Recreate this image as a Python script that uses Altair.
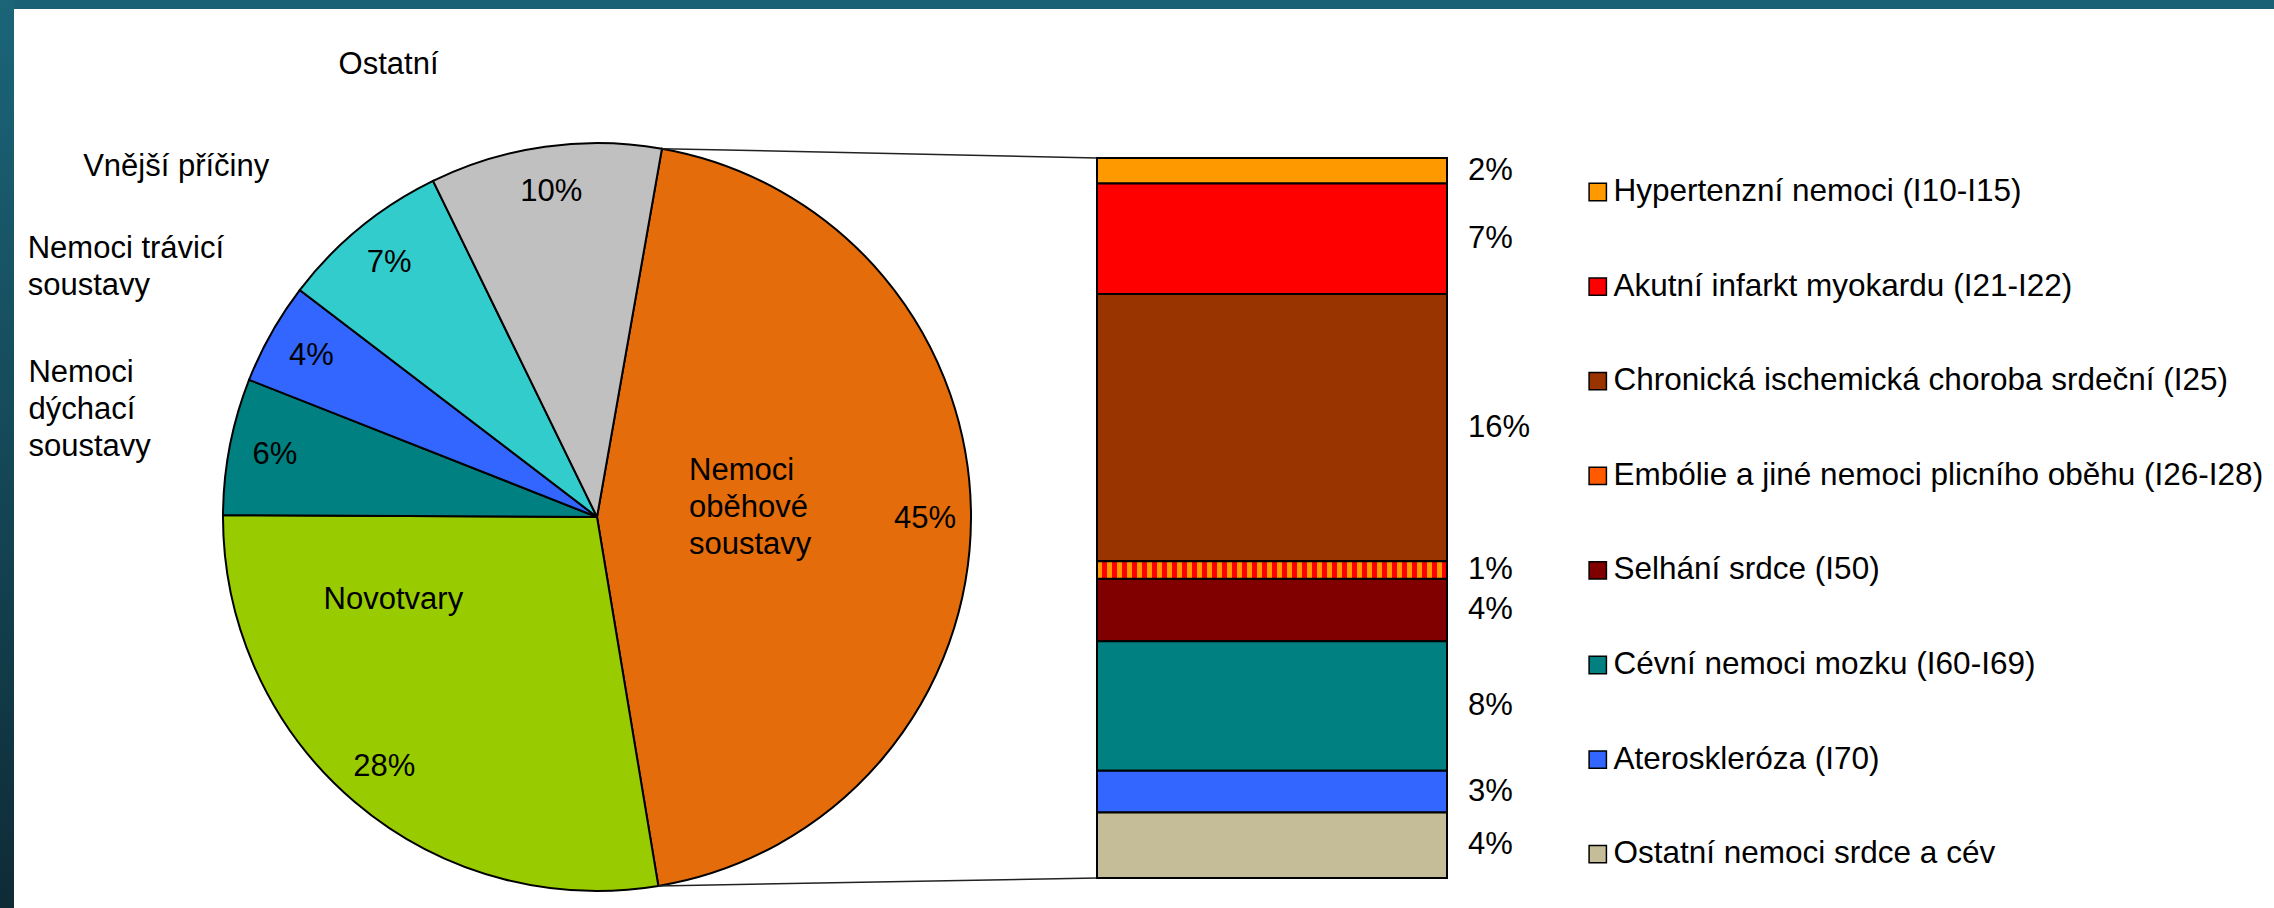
import math
import altair as alt
import pandas as pd

# ---------------- data ----------------
pie_categories = ["Nemoci oběhové soustavy", "Novotvary", "Nemoci dýchací soustavy",
                  "Nemoci trávicí soustavy", "Vnější příčiny", "Ostatní"]
pie_values = [44.6, 27.7, 5.9, 4.4, 7.4, 10.0]
pie_pct_labels = ["45%", "28%", "6%", "4%", "7%", "10%"]
pie_name_labels = ["Nemoci\noběhové\nsoustavy", "Novotvary", "Nemoci\ndýchací\nsoustavy",
                   "Nemoci trávicí\nsoustavy", "Vnější příčiny", "Ostatní"]
pie_colors = ["#E46C0A", "#99CC00", "#008080", "#3366FF", "#33CCCC", "#C0C0C0"]

bar_categories = ["Hypertenzní nemoci (I10-I15)", "Akutní infarkt myokardu (I21-I22)",
                  "Chronická ischemická choroba srdeční (I25)",
                  "Embólie a jiné nemoci plicního oběhu (I26-I28)", "Selhání srdce (I50)",
                  "Cévní nemoci mozku (I60-I69)", "Ateroskleróza (I70)",
                  "Ostatní nemoci srdce a cév"]
bar_values = [1.6, 6.9, 16.7, 1.1, 3.9, 8.1, 2.6, 4.1]
bar_labels = ["2%", "7%", "16%", "1%", "4%", "8%", "3%", "4%"]
bar_colors = ["#FF9900", "#FF0000", "#993300", "#FF5A00", "#800000", "#008080",
              "#3366FF", "#C4BD97"]

pie_df = pd.DataFrame({"idx": range(len(pie_categories)), "cat": pie_categories,
                       "value": pie_values, "pct": pie_pct_labels, "name": pie_name_labels})
bar_df = pd.DataFrame({"idx": range(len(bar_categories)), "cat": bar_categories,
                       "value": bar_values, "label": bar_labels})

# ---------------- layout / style ----------------
FONT = "Liberation Sans"
FS = 31
W, H = 2260, 899
CX, CY, R = 583, 508, 374            # pie centre (view coords) and radius
START = math.radians(10)            # angle of first slice
BAR_X0, BAR_X1 = 1083, 1433
BAR_TOP, BAR_BOTTOM = 149, 869

theta_scale = alt.Scale(domain=[0, sum(pie_values)], range=[START, START + 2 * math.pi])
y_scale = alt.Scale(domain=[0, sum(bar_values)], range=[BAR_TOP, BAR_BOTTOM])

pie_base = alt.Chart(pie_df).transform_window(
    cum="sum(value)", sort=[alt.SortField("idx")], frame=[None, 0]
).transform_calculate(
    start="datum.cum - datum.value", mid="datum.cum - datum.value / 2"
)

arcs = pie_base.mark_arc(outerRadius=R, stroke="black", strokeWidth=2).encode(
    theta=alt.Theta("start:Q", scale=theta_scale, stack=False),
    theta2="cum:Q",
    color=alt.Color("cat:N", scale=alt.Scale(domain=pie_categories, range=pie_colors), legend=None),
    x=alt.value(CX), y=alt.value(CY),
)

pct_text = pie_base.mark_text(radius=328, font=FONT, fontSize=FS, color="black").encode(
    theta=alt.Theta("mid:Q", scale=theta_scale, stack=False),
    text="pct:N",
    x=alt.value(CX), y=alt.value(CY),
)

# label placement styles (radius, dx, dy, align) per slice
name_styles = [
    (92, 0, -46, "left"),
    (220, -61, -84, "center"),
    (470, -107, -55, "left"),
    (470, -160, -37, "left"),
    (470, -123, 14, "center"),
    (470, -143, 13, "center"),
]
name_layers = []
for i, (rad, dx, dy, al) in enumerate(name_styles):
    name_layers.append(
        pie_base.transform_filter(alt.datum.idx == i).mark_text(
            radius=rad, dx=dx, dy=dy, align=al, baseline="middle", font=FONT,
            fontSize=FS, lineBreak="\n", lineHeight=37, color="black"
        ).encode(
            theta=alt.Theta("mid:Q", scale=theta_scale, stack=False),
            text="name:N",
            x=alt.value(CX), y=alt.value(CY),
        )
    )

one = pd.DataFrame({"k": [0]})
connectors = alt.Chart(one).mark_rule(color="#222222", strokeWidth=1.5).encode(
    x=alt.value(CX + R * math.sin(START)), y=alt.value(CY - R * math.cos(START)),
    x2=alt.value(BAR_X0), y2=alt.value(BAR_TOP),
)
end_ang = START + 2 * math.pi * pie_values[0] / sum(pie_values)
connectors2 = alt.Chart(one).mark_rule(color="#222222", strokeWidth=1.5).encode(
    x=alt.value(CX + R * math.sin(end_ang)), y=alt.value(CY - R * math.cos(end_ang)),
    x2=alt.value(BAR_X0), y2=alt.value(BAR_BOTTOM),
)

bar_base = alt.Chart(bar_df).transform_window(
    cum="sum(value)", sort=[alt.SortField("idx")], frame=[None, 0]
).transform_calculate(
    y0="datum.cum - datum.value", ymid="datum.cum - datum.value / 2"
)

legend = alt.Legend(
    title=None, orient="none", legendX=1568, legendY=163, symbolType="square",
    symbolSize=300, symbolStrokeColor="black", symbolStrokeWidth=1.5, symbolOpacity=1,
    labelFont=FONT, labelFontSize=31.5, labelColor="black", labelLimit=1000,
    labelOffset=0, clipHeight=40, rowPadding=54.6,
)

bars = bar_base.mark_bar(stroke="black", strokeWidth=2).encode(
    x=alt.value(BAR_X0), x2=alt.value(BAR_X1),
    y=alt.Y("y0:Q", scale=y_scale, axis=None), y2="cum:Q",
    color=alt.Color("cat:N", scale=alt.Scale(domain=bar_categories, range=bar_colors), legend=legend),
)

n_stripes = 70
stops = []
for k in range(n_stripes):
    c = "#FF9900" if k % 2 == 0 else "#FF0000"
    stops.append(alt.GradientStop(color=c, offset=k / n_stripes))
    stops.append(alt.GradientStop(color=c, offset=(k + 1) / n_stripes))
checker = alt.Gradient(gradient="linear", stops=stops, x1=0, x2=1, y1=0, y2=0)

emb = bar_base.transform_filter(alt.datum.idx == 3).mark_bar(
    fill=checker, stroke="black", strokeWidth=2
).encode(
    x=alt.value(BAR_X0), x2=alt.value(BAR_X1),
    y=alt.Y("y0:Q", scale=y_scale, axis=None), y2="cum:Q",
)

bar_text = bar_base.mark_text(align="left", baseline="middle", font=FONT, fontSize=FS,
                              color="black").encode(
    x=alt.value(BAR_X1 + 21), y=alt.Y("ymid:Q", scale=y_scale, axis=None), text="label:N",
)

strip_grad = alt.Gradient(gradient="linear", x1=0, x2=0, y1=0, y2=1, stops=[
    alt.GradientStop(color="#1B6579", offset=0), alt.GradientStop(color="#0E2B36", offset=1)])
strip = alt.Chart(one).mark_rect(fill=strip_grad).encode(
    x=alt.value(-14), x2=alt.value(0), y=alt.value(-9), y2=alt.value(H),
)

chart = alt.layer(
    strip, arcs, pct_text, *name_layers, connectors, connectors2, bars, emb, bar_text
).resolve_scale(color="independent").properties(
    width=W, height=H, background="#1A6175",
    padding={"left": 14, "top": 9, "right": 0, "bottom": 0},
    autosize=alt.AutoSizeParams(type="none"),
).configure_view(fill="white", strokeWidth=0)

chart.save("out.html", embed_options={"renderer": "svg", "actions": False})
